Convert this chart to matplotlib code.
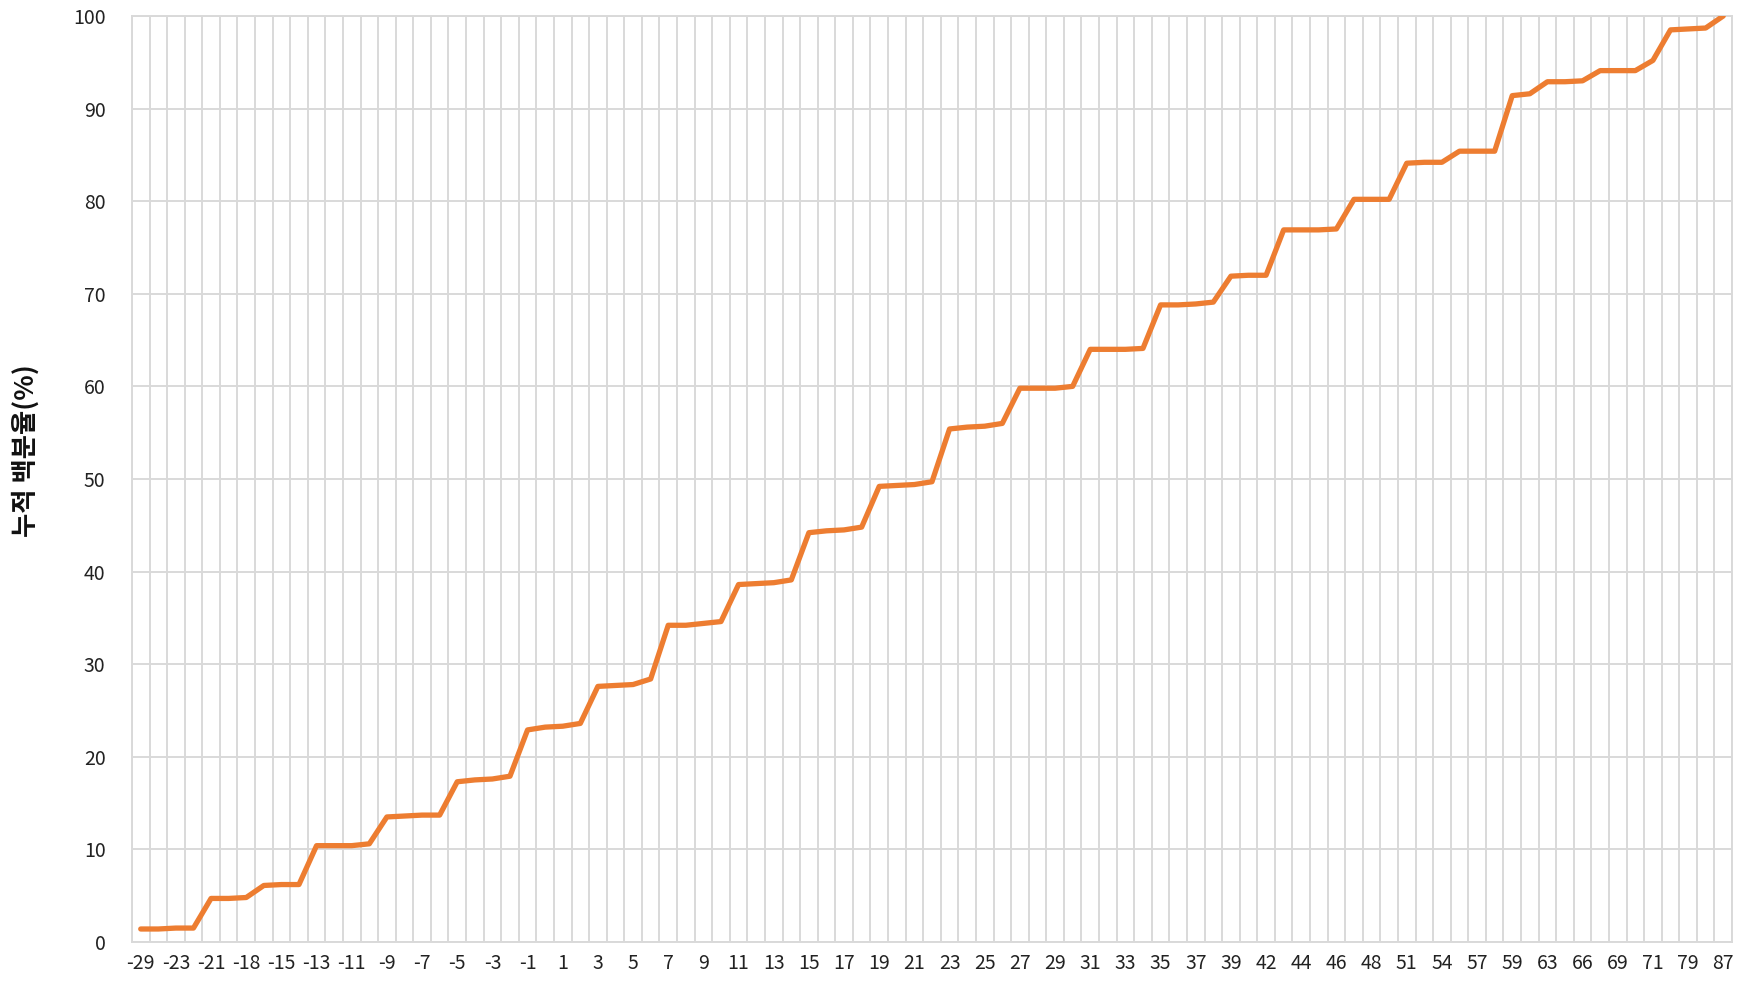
import numpy as np
import matplotlib

matplotlib.use("Agg")

import matplotlib.pyplot as plt

plt.rcParams['font.family'] = ['Noto Sans CJK KR', 'DejaVu Sans']

# category labels (only every other one is shown on the axis)
categories = [
    -29, -25, -23, -22, -21, -19, -18, -16, -15, -14,
    -13, -12, -11, -10, -9, -8, -7, -6, -5, -4,
    -3, -2, -1, 0, 1, 2, 3, 4, 5, 6,
    7, 8, 9, 10, 11, 12, 13, 14, 15, 16,
    17, 18, 19, 20, 21, 22, 23, 24, 25, 26,
    27, 28, 29, 30, 31, 32, 33, 34, 35, 36,
    37, 38, 39, 41, 42, 43, 44, 45, 46, 47,
    48, 50, 51, 52, 54, 55, 57, 58, 59, 61,
    63, 64, 66, 67, 69, 70, 71, 75, 79, 83,
    87,
]

# cumulative percentage (%)
cum_pct = [
    1.4, 1.4, 1.5, 1.5, 4.7, 4.7, 4.8, 6.1, 6.2, 6.2,
    10.4, 10.4, 10.4, 10.6, 13.5, 13.6, 13.7, 13.7, 17.3, 17.5,
    17.6, 17.9, 22.9, 23.2, 23.3, 23.6, 27.6, 27.7, 27.8, 28.4,
    34.2, 34.2, 34.4, 34.6, 38.6, 38.7, 38.8, 39.1, 44.2, 44.4,
    44.5, 44.8, 49.2, 49.3, 49.4, 49.7, 55.4, 55.6, 55.7, 56.0,
    59.8, 59.8, 59.8, 60.0, 64.0, 64.0, 64.0, 64.1, 68.8, 68.8,
    68.9, 69.1, 71.9, 72.0, 72.0, 76.9, 76.9, 76.9, 77.0, 80.2,
    80.2, 80.2, 84.1, 84.2, 84.2, 85.4, 85.4, 85.4, 91.4, 91.6,
    92.9, 92.9, 93.0, 94.1, 94.1, 94.1, 95.2, 98.5, 98.6, 98.7,
    100.0,
]

grid_col = "#d9d9d9"
n = len(categories)
x = np.arange(n)

fig = plt.figure(figsize=(17.52, 9.81), dpi=100)
ax = fig.add_axes([0.0753, 0.0398, 0.9133, 0.9439])

ax.plot(x, cum_pct, color="#ED7D31", lw=3.8, solid_joinstyle="round",
        solid_capstyle="round", zorder=3)

ax.set_xlim(-0.5, n - 0.5)
ax.set_ylim(0, 100)
ax.set_yticks(np.arange(0, 101, 10))
ax.set_xticks(x[::2])
ax.set_xticklabels([str(c) for c in categories[::2]])
ax.set_xticks(np.arange(-0.5, n, 1), minor=True)

ax.grid(which="minor", axis="x", color=grid_col, lw=1.4)
ax.grid(which="major", axis="y", color=grid_col, lw=1.4)
ax.set_axisbelow(True)

for s in ax.spines.values():
    s.set_color(grid_col)
    s.set_linewidth(1.4)

ax.tick_params(axis="both", which="both", length=0, labelsize=14,
               labelcolor="#222222")
ax.tick_params(axis="x", pad=8)
ax.tick_params(axis="y", pad=19)

ax.set_ylabel("누적 백분율(%)", fontsize=19, fontweight="bold", color="#111111")
ax.yaxis.set_label_coords(-0.0575, 0.531)

fig.savefig("out.png", dpi=100)
